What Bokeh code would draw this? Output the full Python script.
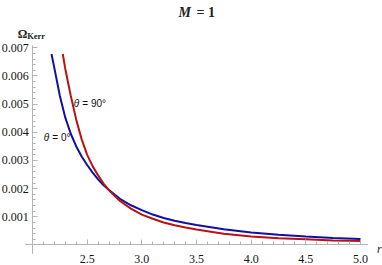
import numpy as np
from bokeh.plotting import figure
from bokeh.models import FixedTicker, Label, Range1d, LinearAxis
from bokeh.core.properties import value
from bokeh.embed import file_html
from bokeh.resources import INLINE

# --- data ---
r_theta0 = [2.174, 2.20, 2.25, 2.30, 2.35, 2.40, 2.45, 2.50, 2.55, 2.60, 2.65, 2.70,
            2.80, 2.90, 3.00, 3.10, 3.20, 3.30, 3.40, 3.50, 3.75, 4.00, 4.25, 4.50, 4.75, 5.00]
omega_theta0 = [0.00678, 0.00628, 0.00530, 0.00452, 0.00395, 0.00350, 0.00314, 0.00284,
                0.00257, 0.00233, 0.00212, 0.00195, 0.00164, 0.00141, 0.00124, 0.00108,
                0.00096, 0.00086, 0.00078, 0.00071, 0.00056, 0.00044, 0.00036, 0.00030,
                0.00025, 0.00021]

r_theta90 = [2.277, 2.30, 2.35, 2.40, 2.45, 2.50, 2.55, 2.60, 2.65, 2.70, 2.80, 2.90,
             3.00, 3.10, 3.20, 3.30, 3.40, 3.50, 3.75, 4.00, 4.25, 4.50, 4.75, 5.00]
omega_theta90 = [0.00678, 0.00625, 0.00530, 0.00445, 0.00375, 0.00320, 0.00280, 0.00247,
                 0.00218, 0.00194, 0.00156, 0.00129, 0.00108, 0.00093, 0.00080, 0.00070,
                 0.00062, 0.00055, 0.00040, 0.00030, 0.00024, 0.00020, 0.00016, 0.00014]

x_ticks = [2.5, 3.0, 3.5, 4.0, 4.5, 5.0]
x_tick_labels = ["2.5", "3.0", "3.5", "4.0", "4.5", "5.0"]
x_minor_ticks = [2.1, 2.2, 2.3, 2.4, 2.6, 2.7, 2.8, 2.9, 3.1, 3.2, 3.3, 3.4, 3.6, 3.7,
                 3.8, 3.9, 4.1, 4.2, 4.3, 4.4, 4.6, 4.7, 4.8, 4.9]
y_ticks = [0.001, 0.002, 0.003, 0.004, 0.005, 0.006, 0.007]
y_tick_labels = ["0.001", "0.002", "0.003", "0.004", "0.005", "0.006", "0.007"]
y_minor_ticks = [round(0.0002 * k, 5) for k in range(1, 36) if k % 5 != 0]

title_var = "M"
title_rest = "= 1"
y_label_main = "Ω"
y_label_sub = "Kerr"
x_label = "r"
theta = "θ"
label_theta0 = "= 0°"
label_theta90 = "= 90°"

BLUE = "#1010a6"
RED = "#b81212"
AXIS = "#b4b4b4"
SERIF = "Liberation Serif"
SANS = "Liberation Sans"
TXT = "#151515"

# the frame fills the whole canvas; axes sit at r = 2 and Omega = 0 inside it
p = figure(width=382, height=265, output_backend="svg", toolbar_location=None,
           x_range=Range1d(1.7073, 5.2013), y_range=Range1d(-0.000728, 0.008680),
           x_axis_location=None, y_axis_location=None,
           min_border_left=0, min_border_right=0, min_border_top=0,
           min_border_bottom=0)
p.outline_line_color = None
p.grid.visible = False
p.background_fill_color = "white"


def make_axis(loc, bounds, ticks, tick_len):
    ax = LinearAxis(fixed_location=loc, bounds=bounds,
                    ticker=FixedTicker(ticks=[], minor_ticks=ticks))
    ax.axis_line_color = AXIS
    ax.axis_line_width = 1
    ax.minor_tick_line_color = AXIS
    ax.minor_tick_in = tick_len
    ax.minor_tick_out = 0
    ax.major_tick_in = 0
    ax.major_tick_out = 0
    ax.major_label_standoff = 0
    return ax


p.add_layout(make_axis(0.0, (1.94, 5.06), x_ticks, 5), "below")
p.add_layout(make_axis(0.0, (1.94, 5.06), x_minor_ticks, 3), "below")
p.add_layout(make_axis(2.0, (-0.0003, 0.00707), y_ticks, 5), "left")
p.add_layout(make_axis(2.0, (-0.0003, 0.00707), y_minor_ticks, 3), "left")

# tick labels
p.text(x=2.0, y=y_ticks, text=y_tick_labels, x_offset=-3.7, text_align="right",
       text_baseline="middle", text_font=value(SERIF), text_font_size="12px",
       text_color=TXT)
p.text(x=x_ticks, y=0.0, text=x_tick_labels, y_offset=14, text_align="center",
       text_baseline="alphabetic", text_font=value(SERIF), text_font_size="12px",
       text_color=TXT)

# curves
p.line(r_theta0, omega_theta0, line_color=BLUE, line_width=2)
p.line(r_theta90, omega_theta90, line_color=RED, line_width=2)

# title and axis labels (screen units, measured from the frame's bottom-left)
p.add_layout(Label(x=178, y=253, x_units="screen", y_units="screen", text=title_var,
                   text_font=SERIF, text_font_size="14px", text_font_style="bold italic",
                   text_baseline="middle", text_color="#222222"))
p.add_layout(Label(x=196, y=253, x_units="screen", y_units="screen", text=title_rest,
                   text_font=SERIF, text_font_size="14px", text_font_style="bold",
                   text_baseline="middle", text_color="#222222"))
p.add_layout(Label(x=17.3, y=231.7, x_units="screen", y_units="screen", text=y_label_main,
                   text_font=SERIF, text_font_size="12px", text_font_style="bold",
                   text_baseline="alphabetic", text_color="#222222"))
p.add_layout(Label(x=26.7, y=229.5, x_units="screen", y_units="screen", text=y_label_sub,
                   text_font=SERIF, text_font_size="8.5px", text_font_style="bold",
                   text_baseline="alphabetic", text_color="#222222"))
p.add_layout(Label(x=376.5, y=17, x_units="screen", y_units="screen", text=x_label,
                   text_font=SERIF, text_font_size="12px", text_font_style="italic",
                   text_baseline="alphabetic", text_color="#222222"))

# curve labels (data units)
for lx, ly, txt in ((2.103, 0.00383, label_theta0), (2.378, 0.005016, label_theta90)):
    p.add_layout(Label(x=lx, y=ly, text=theta, text_font=SANS, text_font_size="10px",
                       text_font_style="italic", text_baseline="middle",
                       text_color="#111111"))
    p.add_layout(Label(x=lx, y=ly, x_offset=8.5, text=txt, text_font=SANS,
                       text_font_size="10px", text_baseline="middle",
                       text_color="#111111"))

open("out.html", "w").write(file_html(p, INLINE))
